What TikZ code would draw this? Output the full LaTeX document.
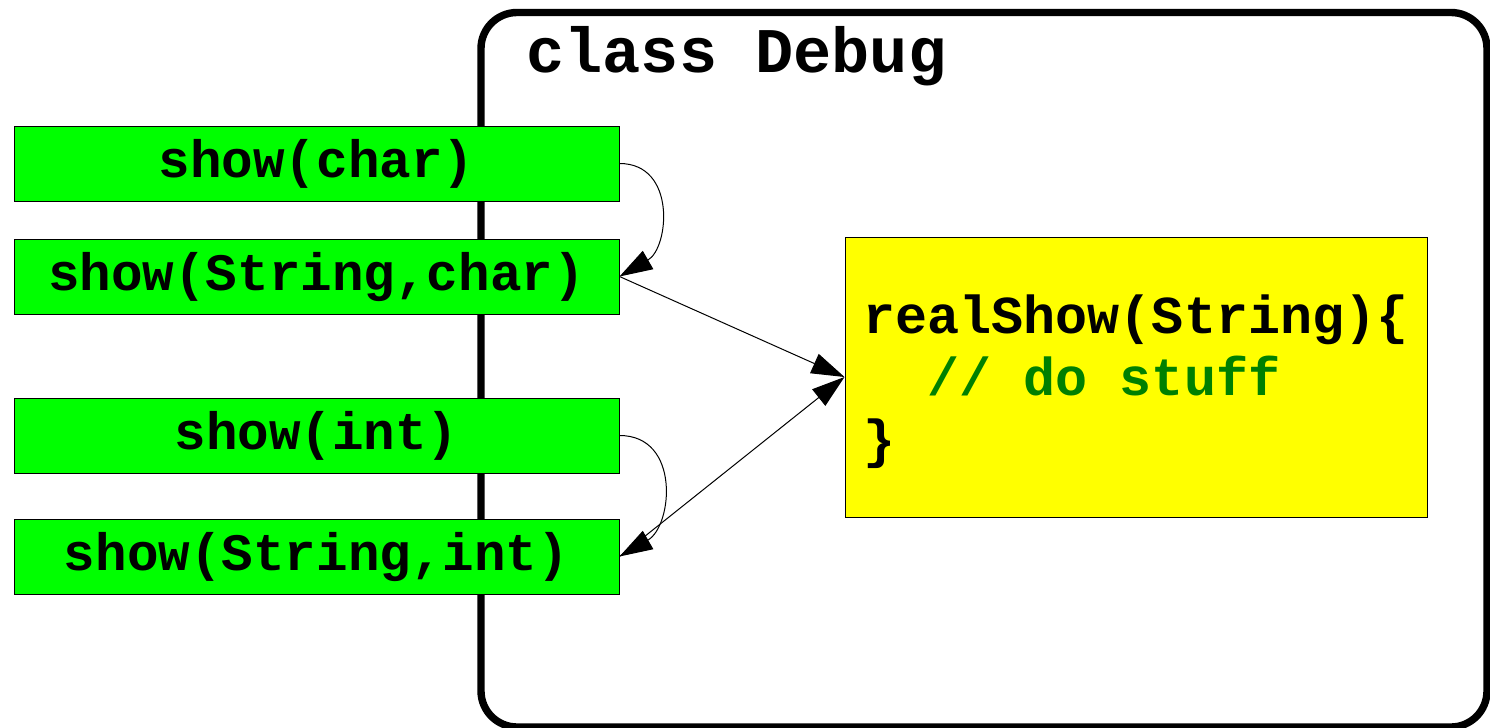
\documentclass[tikz,border=0pt]{standalone}
\usepackage{fontspec}
\setmonofont{Liberation Mono}
\usepackage{tikz}
\usetikzlibrary{arrows.meta,positioning}
\usepackage{xcolor}
\definecolor{methodgreen} {RGB}{  0, 255,   0}
\definecolor{bodyyellow}  {RGB}{255, 255,   0}
\definecolor{commentgreen}{RGB}{  0, 128,   0}

\begin{document}
\begin{tikzpicture}[
  x=0.5pt,y=-0.5pt,
  every node/.style={font=\ttfamily\bfseries\fontsize{26.3}{31}\selectfont},
  method/.style={draw=black,line width=0.5pt,fill=methodgreen,
                 minimum width=302.5pt,minimum height=37.5pt,inner sep=0pt,
                 text depth=5pt},
  body/.style={draw=black,line width=0.5pt,fill=bodyyellow,
               minimum width=291pt,minimum height=140pt,inner sep=0pt,
               align=left,font=\ttfamily\bfseries\fontsize{26.7}{30.8}\selectfont},
  arr/.style={-{Triangle[length=16.5pt,width=10.5pt]},line width=0.5pt},
]
\useasboundingbox (0,0) rectangle (1490,728);

%% ── class outline ───────────────────────────────────────────────────────
\draw[line width=3.7pt,rounded corners=18pt] (481,12.5) rectangle (1487,727);
\node[anchor=base west,inner sep=0pt,
      font=\ttfamily\bfseries\fontsize{31.8}{36}\selectfont] (title) at (526,72) {class Debug};

%% ── overloads ───────────────────────────────────────────────────────────
\node[method] (showChar)    at (316.5,163.5) {show(char)};
\node[method] (showStrChar) at (316.5,276.5) {show(String,char)};
\node[method] (showInt)     at (316.5,435.5) {show(int)};
\node[method] (showStrInt)  at (316.5,556.5) {show(String,int)};

%% ── worker method ───────────────────────────────────────────────────────
\node[body] (realShow) at (1136,377) {\rule{0pt}{24pt}realShow(String)\{\\
  \hphantom{xx}\textcolor{commentgreen}{// do stuff}\\
  \}};

%% ── calls ───────────────────────────────────────────────────────────────
\draw[arr] (showChar.east) to[out=0,in=30,looseness=1.3] (showStrChar.east);
\draw[arr] (showInt.east)  to[out=0,in=30,looseness=1.3] (showStrInt.east);
\draw[arr] (showStrChar.east) -- (realShow.west);
\draw[arr] (showStrInt.east)  -- (realShow.west);

\end{tikzpicture}
\end{document}
